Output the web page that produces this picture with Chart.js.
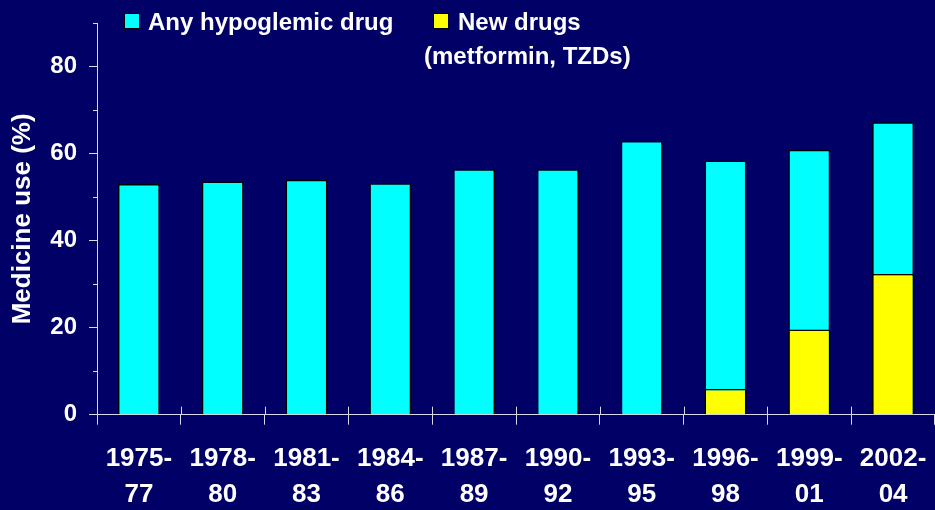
<!DOCTYPE html>
<html><head><meta charset="utf-8">
<script src="https://cdn.jsdelivr.net/npm/chart.js@4"></script>
<style>html,body{margin:0;padding:0;background:#000066;overflow:hidden;}</style>
</head><body>
<canvas id="c" width="935" height="510" style="display:block;width:935px;height:510px"></canvas>
<script>
const categories = [['1975-','77'],['1978-','80'],['1981-','83'],['1984-','86'],['1987-','89'],['1990-','92'],['1993-','95'],['1996-','98'],['1999-','01'],['2002-','04']];
const anyDrug = [53.0, 53.6, 54.0, 53.2, 56.4, 56.4, 62.9, 58.4, 60.9, 67.2];
const newDrugs = [null, null, null, null, null, null, null, 5.9, 19.6, 32.3];
const seriesNames = ['Any hypoglemic drug', 'New drugs'];
const newDrugsNote = '(metformin, TZDs)';
const yAxisTitle = 'Medicine use (%)';
const yMin = 0, yMax = 90, yMinorStep = 10, yMajorStep = 20;

const FONT = "'Liberation Sans', Arial, sans-serif";
const AXIS = '#d8d8e8';
const CYAN = '#00FFFF', YELLOW = '#FFFF00', BG = '#000066';

const deco = {
  id: 'deco',
  beforeDraw(chart) {
    const ctx = chart.ctx;
    ctx.save(); ctx.fillStyle = BG; ctx.fillRect(0, 0, chart.width, chart.height); ctx.restore();
  },
  afterDraw(chart) {
    const ctx = chart.ctx, x = chart.scales.x, y = chart.scales.y;
    ctx.save();
    ctx.strokeStyle = AXIS; ctx.lineWidth = 1;
    for (let v = yMin + yMinorStep; v <= yMax; v += yMajorStep) {
      const py = Math.round(y.getPixelForValue(v)) + 0.5;
      ctx.beginPath(); ctx.moveTo(x.left - 4, py); ctx.lineTo(x.left, py); ctx.stroke();
    }
    for (let i = 0; i < categories.length; i++) {
      const px = Math.round(x.getPixelForValue(i - 0.5)) + 0.5;
      ctx.beginPath(); ctx.moveTo(px, y.bottom - 8); ctx.lineTo(px, y.bottom); ctx.stroke();
    }
    ctx.font = 'bold 24px ' + FONT;
    ctx.textBaseline = 'alphabetic';
    ctx.lineWidth = 1; ctx.strokeStyle = '#000';
    ctx.fillStyle = CYAN; ctx.fillRect(124, 13, 15, 15); ctx.strokeRect(124.5, 13.5, 15, 15);
    ctx.fillStyle = YELLOW; ctx.fillRect(433, 13, 15, 15); ctx.strokeRect(433.5, 13.5, 15, 15);
    ctx.fillStyle = '#fff';
    ctx.fillText(seriesNames[0], 148, 30);
    ctx.fillText(seriesNames[1], 458, 30);
    ctx.fillText(newDrugsNote, 424, 63.5);
    ctx.restore();
  }
};

new Chart(document.getElementById('c'), {
  type: 'bar',
  data: {
    labels: categories,
    datasets: [
      { label: seriesNames[0], data: anyDrug, backgroundColor: CYAN, borderColor: '#000', borderWidth: 1.5, order: 1 },
      { label: seriesNames[1], data: newDrugs, backgroundColor: YELLOW, borderColor: '#000', borderWidth: 1.5, order: 0 }
    ]
  },
  options: {
    responsive: false,
    animation: false,
    devicePixelRatio: 1,
    layout: { padding: { top: 23, right: 0, left: 0, bottom: 0 } },
    datasets: { bar: { barPercentage: 0.5, categoryPercentage: 1.0, grouped: false } },
    plugins: { legend: { display: false }, tooltip: { enabled: false } },
    scales: {
      x: {
        offset: true,
        afterFit: s => { s.height = 95.3; s.paddingLeft = 0; s.paddingRight = 0; },
        grid: { offset: true, drawOnChartArea: false, color: AXIS, tickLength: 10, lineWidth: 1 },
        border: { color: AXIS, width: 1 },
        ticks: { color: '#fff', font: { family: FONT, size: 26, weight: 'bold', lineHeight: 1.4 }, padding: 16, maxRotation: 0, autoSkip: false }
      },
      y: {
        min: yMin, max: yMax,
        afterFit: s => { s.width = 97; s.paddingTop = 0; s.paddingBottom = 0; },
        grid: { drawOnChartArea: false, tickLength: 8, lineWidth: 1,
          color: c => (c.tick && c.tick.value % yMajorStep === 0) ? AXIS : 'rgba(0,0,0,0)' },
        border: { color: AXIS, width: 1 },
        ticks: { stepSize: yMinorStep, color: '#fff', padding: 12,
          font: { family: FONT, size: 24, weight: 'bold' },
          callback: v => (v % yMajorStep === 0 ? v : '') },
        title: { display: true, text: yAxisTitle, color: '#fff', padding: { top: 7, bottom: 0 },
          font: { family: FONT, size: 26, weight: 'bold' } }
      }
    }
  },
  plugins: [deco]
});
</script>
</body></html>
